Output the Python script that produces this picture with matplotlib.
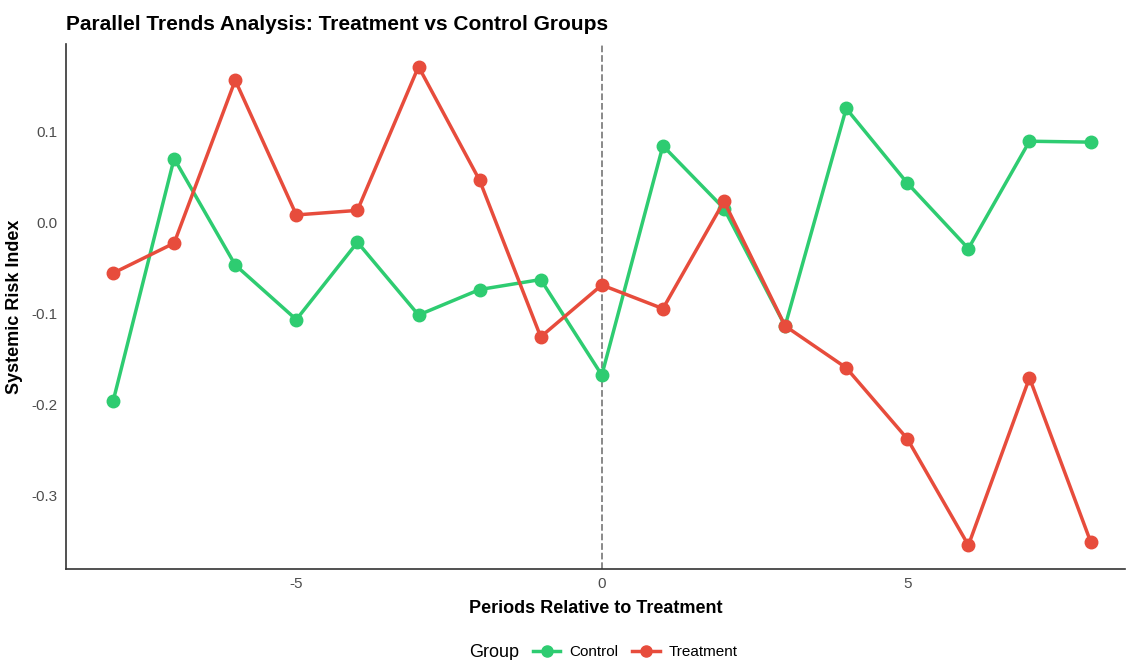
import numpy as np
import matplotlib.pyplot as plt
from matplotlib.lines import Line2D
from matplotlib.offsetbox import HPacker

plt.rcParams['font.family'] = ['Liberation Sans', 'DejaVu Sans']
plt.rcParams['axes.unicode_minus'] = False

periods = np.arange(-8, 9)
control = [-0.197, 0.070, -0.047, -0.107, -0.022, -0.102, -0.074, -0.063, -0.168,
           0.084, 0.015, -0.114, 0.125, 0.043, -0.029, 0.089, 0.088]
treatment = [-0.056, -0.023, 0.156, 0.008, 0.013, 0.171, 0.046, -0.126, -0.069,
             -0.095, 0.023, -0.114, -0.160, -0.238, -0.355, -0.171, -0.351]
green = '#2ecc71'
red = '#e74c3c'

fig = plt.figure(figsize=(11.3, 6.6), dpi=100)
ax = fig.add_axes([0.0584, 0.138, 0.937, 0.795])
ax.plot(periods, control, color=green, lw=2.5, marker='o', ms=9, zorder=3)
ax.plot(periods, treatment, color=red, lw=2.5, marker='o', ms=9, zorder=3)
ax.axvline(0, color='grey', ls='--', lw=1.3, zorder=1)

ax.set_xlim(-8.77, 8.56)
ax.set_ylim(-0.381, 0.1956)
ax.set_xticks([-5, 0, 5])
ax.set_yticks([-0.3, -0.2, -0.1, 0.0, 0.1])
ax.set_yticklabels(['-0.3', '-0.2', '-0.1', '0.0', '0.1'])
ax.tick_params(length=0, labelsize=11, labelcolor='#4d4d4d', pad=6)
for s in ['top', 'right']:
    ax.spines[s].set_visible(False)
for s in ['left', 'bottom']:
    ax.spines[s].set_color('#333333')
    ax.spines[s].set_linewidth(1.2)

ax.set_xlabel('Periods Relative to Treatment', fontsize=13, fontweight='bold', labelpad=6)
ax.set_ylabel('Systemic Risk Index', fontsize=13, fontweight='bold', labelpad=6)
ax.set_title('Parallel Trends Analysis: Treatment vs Control Groups', fontsize=15,
             fontweight='bold', loc='left', x=-0.0, pad=10)

handles = [Line2D([], [], color=green, lw=2.5, marker='o', ms=8),
           Line2D([], [], color=red, lw=2.5, marker='o', ms=8)]
leg = fig.legend(handles, ['Control', 'Treatment'], loc='center', bbox_to_anchor=(0.534, 0.012),
                 ncol=2, frameon=False, fontsize=11, title='Group', title_fontsize=13,
                 handlelength=1.8, columnspacing=0.9, handletextpad=0.6)
# put title to the left of entries
box = leg._legend_box
box._children = [HPacker(children=box._children, align='center', pad=0, sep=10)]

fig.savefig('out.png', dpi=100)
